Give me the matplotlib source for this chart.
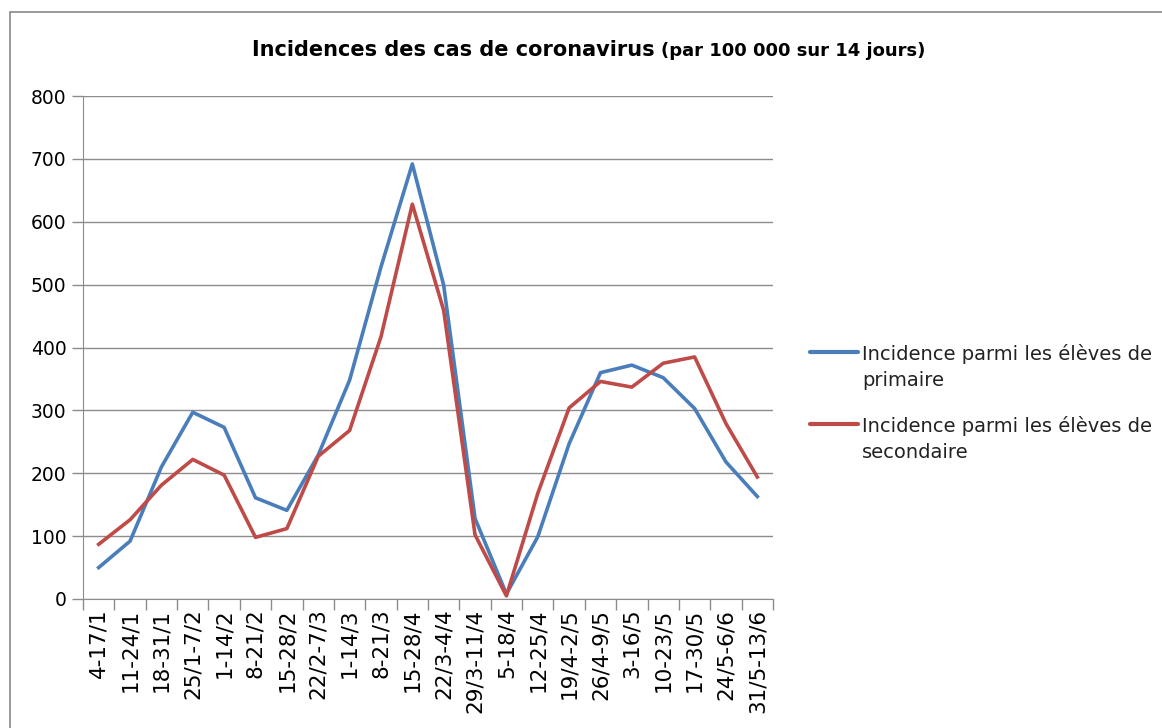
import matplotlib.pyplot as plt
from matplotlib.patches import Rectangle
from matplotlib.lines import Line2D
import numpy as np

# Data
periodes = ['4-17/1', '11-24/1', '18-31/1', '25/1-7/2', '1-14/2', '8-21/2', '15-28/2',
            '22/2-7/3', '1-14/3', '8-21/3', '15-28/4', '22/3-4/4', '29/3-11/4', '5-18/4',
            '12-25/4', '19/4-2/5', '26/4-9/5', '3-16/5', '10-23/5', '17-30/5',
            '24/5-6/6', '31/5-13/6']
primaire = [50, 92, 210, 297, 273, 161, 141, 229, 348, 528, 692, 499, 128, 8,
            99, 247, 360, 372, 352, 303, 218, 163]
secondaire = [87, 126, 181, 222, 197, 98, 112, 227, 268, 417, 628, 459, 102, 5,
              168, 304, 346, 337, 375, 385, 279, 194]
noms = ['Incidence parmi les élèves de\nprimaire',
        'Incidence parmi les élèves de\nsecondaire']
couleurs = ['#4A7EBB', '#BE4B48']

W, H = 1162, 728
fig = plt.figure(figsize=(W / 100, H / 100), dpi=100)

# outer chart frame (Excel-like)
fig.patches.append(Rectangle((10 / W, -0.05), 1.2, 1 - 12 / H + 0.05,
                             transform=fig.transFigure, fill=False,
                             edgecolor='#888888', linewidth=1.2))

ax = fig.add_axes([83 / W, 1 - 599 / H, 690 / W, 503 / H])

x = np.arange(len(periodes))
for serie, c in zip([primaire, secondaire], couleurs):
    ax.plot(x, serie, color=c, linewidth=2.6)

ax.set_xlim(-0.5, len(periodes) - 0.5)
ax.set_ylim(0, 800)
ax.set_yticks(range(0, 801, 100))
ax.yaxis.grid(True, color='#8c8c8c', linewidth=1)
ax.set_axisbelow(True)

# category labels centered, ticks on boundaries
ax.set_xticks(x)
ax.set_xticklabels(periodes, rotation=90, fontsize=15.5, family='DejaVu Sans')
ax.tick_params(axis='x', length=0, pad=7)
ax.set_xticks(np.arange(-0.5, len(periodes)), minor=True)
ax.tick_params(axis='x', which='minor', length=8, color='#8c8c8c', width=1)
ax.tick_params(axis='y', length=8, color='#8c8c8c', width=1, labelsize=13.5, pad=4)

for s in ['top', 'right']:
    ax.spines[s].set_visible(False)
for s in ['left', 'bottom']:
    ax.spines[s].set_color('#8c8c8c')

# title in two sizes
fig.text(655 / W, 1 - 50 / H, 'Incidences des cas de coronavirus', ha='right', va='center',
         fontsize=15, fontweight='bold', family='DejaVu Sans Condensed')
fig.text(661 / W, 1 - 51 / H, '(par 100 000 sur 14 jours)', ha='left', va='center',
         fontsize=13, fontweight='bold', family='DejaVu Sans Condensed')

# legend, Excel style: handle aligned with first text line
for i, (nom, c) in enumerate(zip(noms, couleurs)):
    y0 = 352 + i * 72
    fig.add_artist(Line2D([810 / W, 858 / W], [1 - y0 / H, 1 - y0 / H], color=c,
                          linewidth=3, solid_capstyle='round'))
    fig.text(862 / W, 1 - (y0 + 15) / H, nom, ha='left', va='center', fontsize=14,
             linespacing=1.5, color='#222222')

plt.savefig('out.png', dpi=100)
